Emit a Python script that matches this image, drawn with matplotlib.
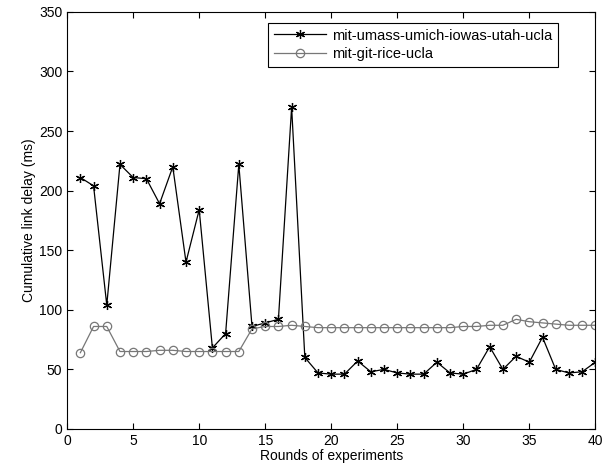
import matplotlib
matplotlib.use("Agg")
import matplotlib.pyplot as plt

rounds = list(range(1, 41))
route_a = [211, 204, 104, 222, 211, 210, 189, 220, 140, 184,
           68, 80, 222, 86, 89, 92, 270, 60, 47, 46,
           46, 57, 48, 50, 47, 46, 46, 56, 47, 46,
           50, 69, 50, 61, 56, 77, 50, 47, 48, 56]
route_b = [64, 86, 86, 65, 65, 65, 66, 66, 65, 65,
           65, 65, 65, 84, 86, 86, 87, 86, 85, 85,
           85, 85, 85, 85, 85, 85, 85, 85, 85, 86,
           86, 87, 87, 92, 90, 89, 88, 87, 87, 87]
label_a = "mit-umass-umich-iowas-utah-ucla"
label_b = "mit-git-rice-ucla"

plt.rcParams["font.family"] = ["Liberation Sans", "DejaVu Sans"]
plt.rcParams["font.size"] = 10

fig = plt.figure(figsize=(6.05, 4.74), dpi=100)
ax = fig.add_axes([0.111, 0.095, 0.873, 0.880])

ax.plot(rounds, route_a, color="black", lw=0.9, marker=(6, 2, 0),
        markersize=6.5, markeredgewidth=0.9, label=label_a)
ax.plot(rounds, route_b, color="#777777", lw=0.9, marker="o",
        markersize=6, markerfacecolor="none", markeredgecolor="#777777",
        markeredgewidth=0.9, label=label_b)

ax.set_xlim(0, 40)
ax.set_ylim(0, 350)
ax.set_xticks(range(0, 41, 5))
ax.set_yticks(range(0, 351, 50))
ax.tick_params(direction="in", top=True, right=True, length=4)
ax.set_xlabel("Rounds of experiments", labelpad=1)
ax.set_ylabel("Cumulative link delay (ms)", labelpad=2)

leg = ax.legend(loc="upper right", bbox_to_anchor=(0.93, 0.974),
                borderaxespad=0, fancybox=False, edgecolor="black",
                framealpha=1, fontsize=10.5, handlelength=3.6,
                handletextpad=0.4, labelspacing=0.3)
leg.get_frame().set_linewidth(0.8)

fig.savefig("out.png", dpi=100)
